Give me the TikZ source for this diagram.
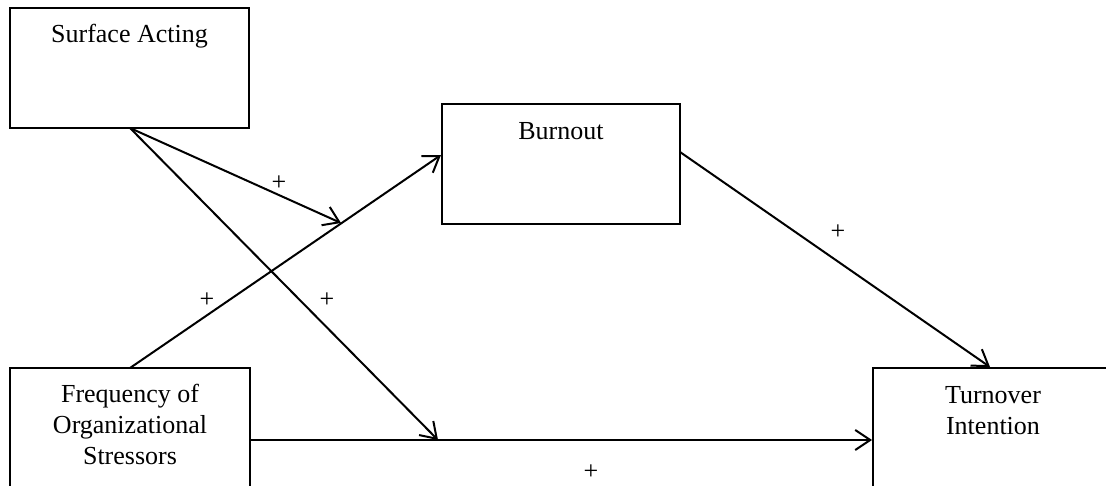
\documentclass[tikz,border=0pt]{standalone}
\usepackage{fontspec}
\setmainfont{Liberation Serif}
\usetikzlibrary{arrows.meta}
\begin{document}
\begin{tikzpicture}[x=1pt,y=-1pt,
  box/.style={draw, line width=1.9pt, rectangle, inner sep=0pt},
  lbl/.style={font=\fontsize{26}{31}\selectfont, align=center, inner sep=0pt, anchor=base},
  conn/.style={line width=2pt, -{Straight Barb[length=15pt,width=20pt]}},
  plusl/.style={font=\fontsize{26}{31}\selectfont, inner sep=0pt}]
\useasboundingbox (0,0) rectangle (1106,486);
% boxes
\node[box, minimum width=239pt, minimum height=120pt] (sa) at (129.5,68) {};
\node[box, minimum width=238pt, minimum height=120pt] (bo) at (561,164) {};
\node[box, minimum width=240pt, minimum height=140pt] (fo) at (130,438) {};
\node[box, minimum width=240pt, minimum height=140pt] (ti) at (993,438) {};
% labels
\node[lbl] (saT) at (129.5,43) {Surface Acting};
\node[lbl] (boT) at (561,140) {Burnout};
\node[lbl, anchor=north] (foT) at (130,381) {\strut Frequency of\\Organizational\\Stressors};
\node[lbl, anchor=north] (tiT) at (993,382) {\strut Turnover\\Intention};
% anchor points
\coordinate (saS) at (130,128);
\coordinate (foN) at (130,368);
\coordinate (boW) at (441,155);
\coordinate (foE) at (250,440);
\coordinate (tiW) at (872,440);
\coordinate (boE) at (680,152);
\coordinate (tiN) at (990,367);
\coordinate (m1) at (341,223);
\coordinate (m2) at (438,440);
% connectors
\draw[conn] (foN) -- (boW);
\draw[conn] (foE) -- (tiW);
\draw[conn] (boE) -- (tiN);
\draw[conn] (saS) -- (m1);
\draw[conn] (saS) -- (m2);
% plus signs
\node[plusl] (p1) at (279,183) {+};
\node[plusl] (p2) at (207,300) {+};
\node[plusl] (p3) at (327,300) {+};
\node[plusl] (p4) at (838,232) {+};
\node[plusl] (p5) at (591,472) {+};
\end{tikzpicture}
\end{document}
